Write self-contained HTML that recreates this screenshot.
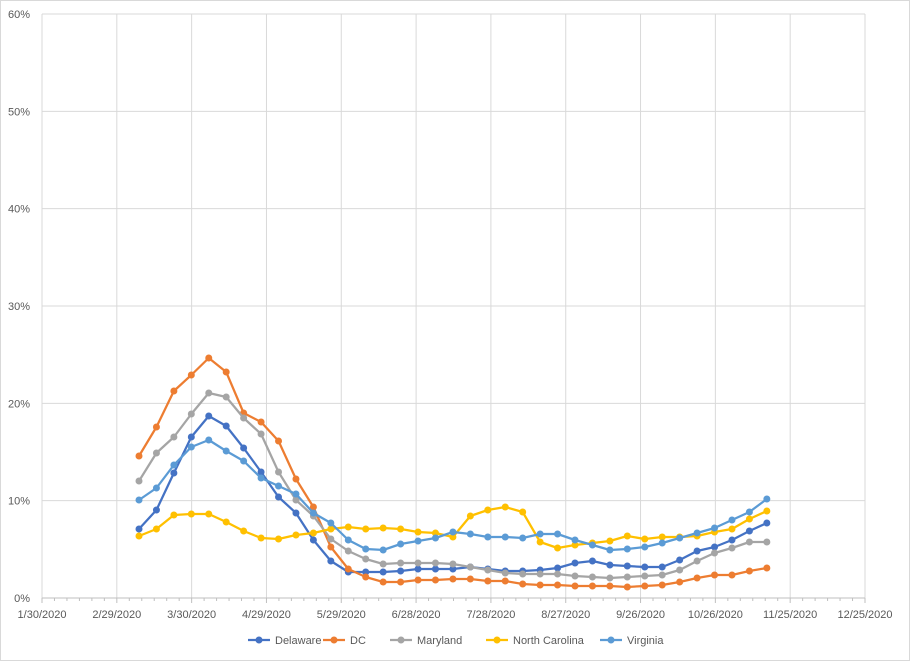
<!DOCTYPE html>
<html><head><meta charset="utf-8"><style>
body{margin:0;background:#fff}
svg{display:block;font-family:"Liberation Sans",sans-serif}
</style></head><body>
<svg width="910" height="661" xmlns="http://www.w3.org/2000/svg">
<rect x="0.5" y="0.5" width="909" height="660" fill="#fff" stroke="#d9d9d9"/>
</svg>
<script>
const svg=document.querySelector('svg');const NS='http://www.w3.org/2000/svg';
function el(t,a,txt){const e=document.createElementNS(NS,t);for(const k in a)e.setAttribute(k,a[k]);if(txt!==undefined)e.textContent=txt;svg.appendChild(e);return e;}
const L=42,R=865,T=14,B=598;
for(let k=0;k<=6;k++){const y=B-k*(B-T)/6;
 if(k>0)el('line',{x1:L,x2:R,y1:y,y2:y,stroke:'#d9d9d9','stroke-width':1});
 el('text',{x:30,y:y+4,'text-anchor':'end','font-size':11,fill:'#595959'},(k*10)+'%');}
const labs=['1/30/2020','2/29/2020','3/30/2020','4/29/2020','5/29/2020','6/28/2020','7/28/2020','8/27/2020','9/26/2020','10/26/2020','11/25/2020','12/25/2020'];
const dx=(R-L)/11;
for(let k=0;k<12;k++){const x=L+k*dx;
 el('line',{x1:x,x2:x,y1:T,y2:B,stroke:'#d9d9d9','stroke-width':1});
 el('line',{x1:x,x2:x,y1:B,y2:B+5,stroke:'#bfbfbf'});
 el('text',{x:x,y:618,'text-anchor':'middle','font-size':11,fill:'#595959'},labs[k]);
 if(k<11)for(let m=1;m<6;m++){const xx=x+m*dx/6;el('line',{x1:xx,x2:xx,y1:B,y2:B+3,stroke:'#bfbfbf'});}}
el('line',{x1:L,x2:R,y1:B,y2:B,stroke:'#bfbfbf'});
const S=[
['Delaware','#4472C4',[529,510,473,437,416,426,448,472,497,513,540,561,572,572,572,571,569,569,569,567,569,571,571,570,568,563,561,565,566,567,567,560,551,547,540,531,523]],
['DC','#ED7D31',[456,427,391,375,358,372,413,422,441,479,507,547,569,577,582,582,580,580,579,579,581,581,584,585,585,586,586,586,587,586,585,582,578,575,575,571,568]],
['Maryland','#A5A5A5',[481,453,437,414,393,397,418,434,472,500,516,539,551,559,564,563,563,563,564,567,570,573,574,574,574,576,577,578,577,576,575,570,561,553,548,542,542]],
['North Carolina','#FFC000',[536,529,515,514,514,522,531,538,539,535,533,529,527,529,528,529,532,533,537,516,510,507,512,542,548,545,543,541,536,539,537,537,536,532,529,519,511]],
['Virginia','#5B9BD5',[500,488,465,447,440,451,461,478,486,494,513,523,540,549,550,544,541,538,532,534,537,537,538,534,534,540,545,550,549,547,543,538,533,528,520,512,499]]];
S.forEach(s=>{const pts=s[2].map((y,i)=>[139+17.44*i,y]);
 el('polyline',{points:pts.map(p=>p.join(',')).join(' '),fill:'none',stroke:s[1],'stroke-width':2.25,'stroke-linejoin':'round'});
 pts.forEach(p=>el('circle',{cx:p[0],cy:p[1],r:3.5,fill:s[1]}));});
const lx=[248,323,390,486,600];
S.forEach((s,i)=>{const x=lx[i];el('line',{x1:x,x2:x+22,y1:640,y2:640,stroke:s[1],'stroke-width':2.25});
 el('circle',{cx:x+11,cy:640,r:3.5,fill:s[1]});
 el('text',{x:x+27,y:644,'font-size':11,fill:'#595959'},s[0]);});
</script>
</body></html>
